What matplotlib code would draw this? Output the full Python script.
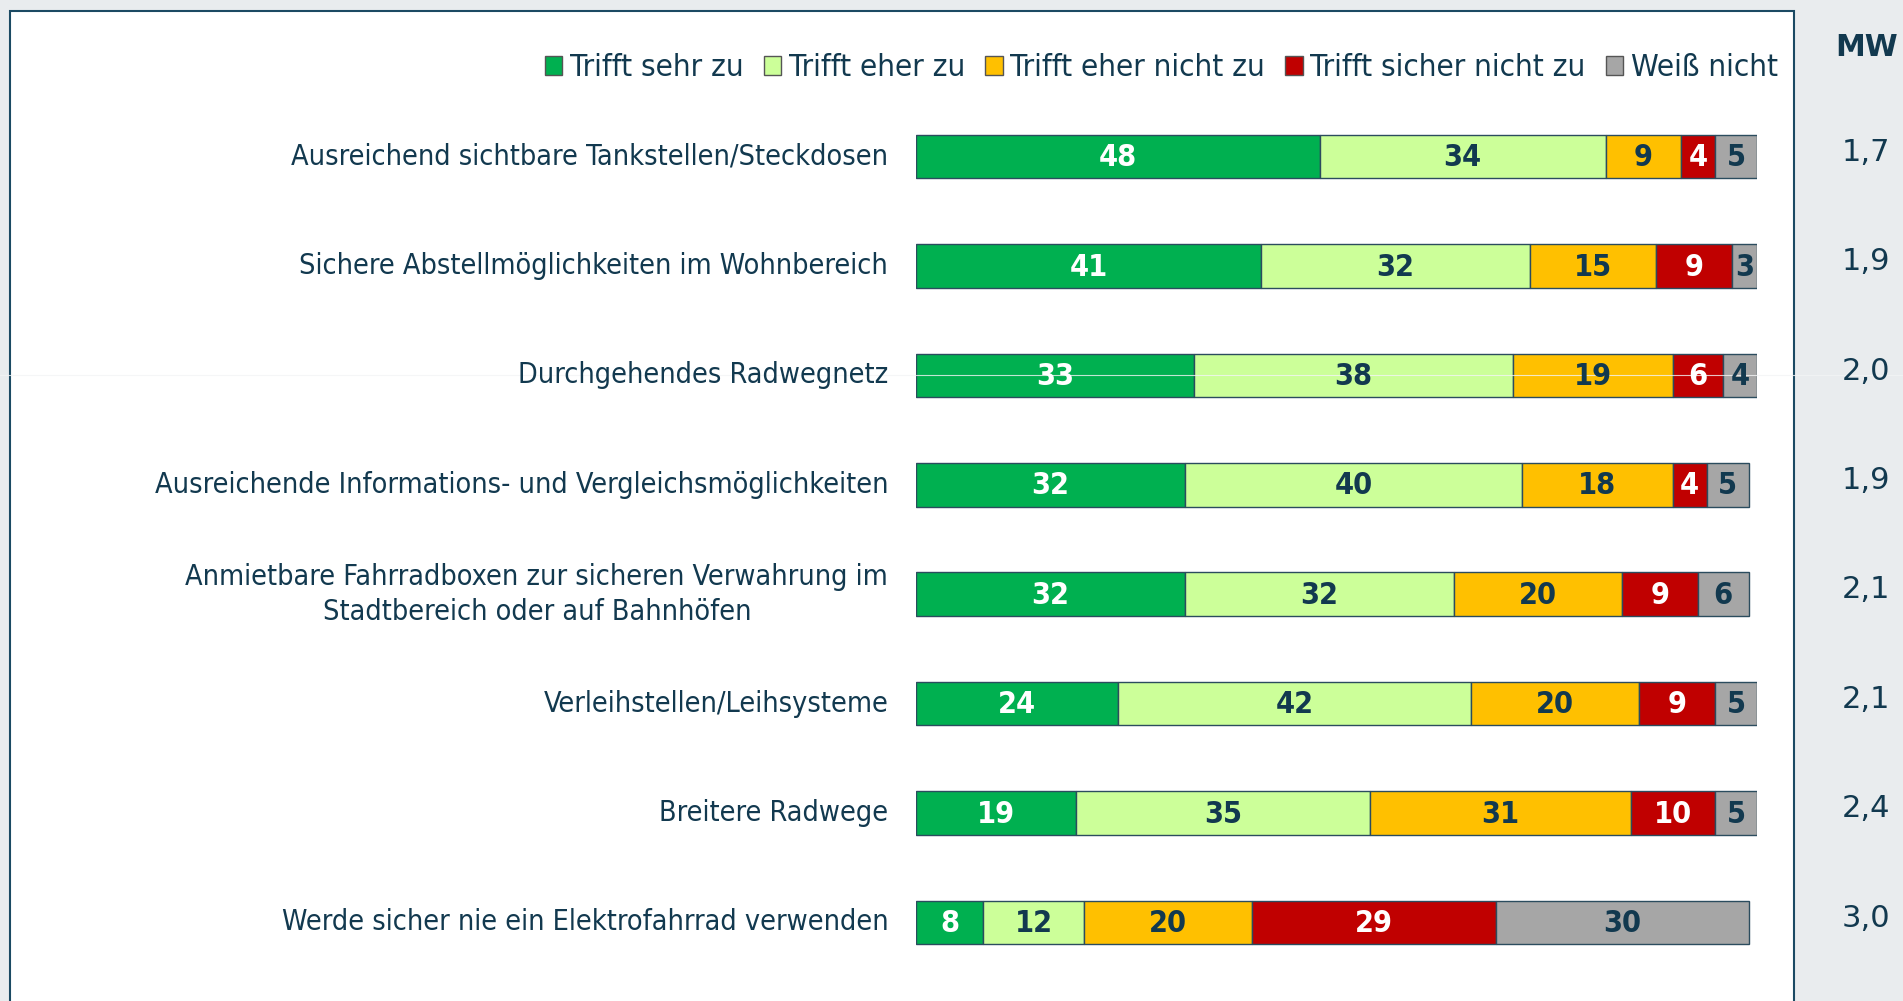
import matplotlib.pyplot as plt
from matplotlib.patches import Patch, Rectangle
from matplotlib.lines import Line2D

# data
cats = ["Ausreichend sichtbare Tankstellen/Steckdosen",
        "Sichere Abstellmöglichkeiten im Wohnbereich",
        "Durchgehendes Radwegnetz",
        "Ausreichende Informations- und Vergleichsmöglichkeiten",
        "Anmietbare Fahrradboxen zur sicheren Verwahrung im\nStadtbereich oder auf Bahnhöfen",
        "Verleihstellen/Leihsysteme",
        "Breitere Radwege",
        "Werde sicher nie ein Elektrofahrrad verwenden"]
sehr = [48, 41, 33, 32, 32, 24, 19, 8]
eher = [34, 32, 38, 40, 32, 42, 35, 12]
eher_nicht = [9, 15, 19, 18, 20, 20, 31, 20]
sicher_nicht = [4, 9, 6, 4, 9, 9, 10, 29]
weiss = [5, 3, 4, 5, 6, 5, 5, 30]
mw = ["1,7", "1,9", "2,0", "1,9", "2,1", "2,1", "2,4", "3,0"]
series_names = ["Trifft sehr zu", "Trifft eher zu", "Trifft eher nicht zu",
                "Trifft sicher nicht zu", "Weiß nicht"]

colors = ["#00B050", "#CCFF99", "#FFC000", "#C00000", "#A6A6A6"]
txtcol = ["white", "#12394F", "#12394F", "white", "#12394F"]
navy = "#12394F"
edge = "#2B4C5E"

W, H = 1903, 1001
fig = plt.figure(figsize=(W / 100, H / 100), dpi=100)
fig.patch.set_facecolor("#E9ECEE")

# white panel behind everything
fig.patches.append(Rectangle((10 / W, -0.05), (1794 - 10) / W, 1.05 - 11 / H,
                             transform=fig.transFigure, facecolor="white",
                             edgecolor="#1B4A63", linewidth=1.5, zorder=-5))

x0, x100 = 916, 1757
ax = fig.add_axes([x0 / W, 0, (x100 - x0) / W, 1])
ax.set_xlim(0, 100)
row0, step = 156.6, 109.4
ax.set_ylim((H - row0) / step, -row0 / step)
ax.axis("off")

# faint artifact line across the picture, above bars but under text
ax.add_line(Line2D([0, 1], [1 - 375 / H, 1 - 375 / H], transform=fig.transFigure,
                   color="#F3F4F5", linewidth=0.8, alpha=0.8, zorder=2.5,
                   clip_on=False))

series = [sehr, eher, eher_nicht, sicher_nicht, weiss]
y = list(range(len(cats)))
left = [0] * len(cats)
for k, vals in enumerate(series):
    ax.barh(y, vals, left=left, height=0.40, color=colors[k], edgecolor=edge,
            linewidth=1.0, zorder=2)
    for i, v in enumerate(vals):
        ax.text(left[i] + v / 2, i + 0.01, str(v), ha="center", va="center",
                fontsize=22, fontweight="bold", fontstretch="condensed",
                color=txtcol[k], zorder=3)
    left = [l + v for l, v in zip(left, vals)]

for i, c in enumerate(cats):
    ax.text(-3.3, i, c, ha="right", va="center", fontsize=20.6,
            fontstretch="condensed", color=navy, linespacing=1.3,
            multialignment="center", zorder=3)
    ax.text(113.0, i - 0.04, mw[i], ha="center", va="center", fontsize=22,
            color=navy, clip_on=False)

fig.text(1867 / W, 1 - 48 / H, "MW", ha="center", va="center", fontsize=21.5,
         fontweight="bold", color=navy)

handles = [Patch(facecolor=colors[k], edgecolor="#555555", linewidth=1)
           for k in range(5)]
fig.legend(handles, series_names, loc="center right",
           bbox_to_anchor=(1778 / W, 1 - 68 / H), ncol=5, frameon=False,
           handlelength=0.55, handleheight=0.55,
           handletextpad=0.25, columnspacing=0.65, borderpad=0,
           borderaxespad=0, labelcolor=navy,
           prop={"size": 22.5, "stretch": "condensed"})

fig.savefig("out.png", dpi=100, facecolor=fig.get_facecolor())
